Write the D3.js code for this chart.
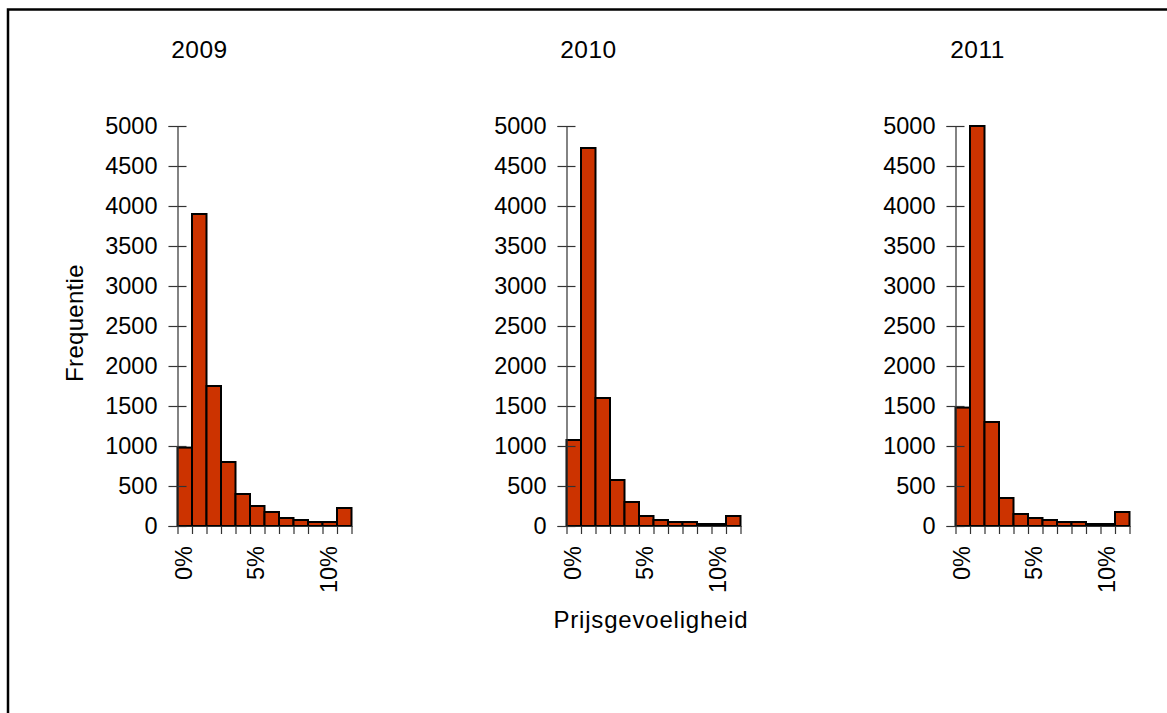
<!DOCTYPE html>
<html>
<head>
<meta charset="utf-8">
<script src="https://cdn.jsdelivr.net/npm/d3@7"></script>
<style>
  html, body { margin: 0; padding: 0; background: #fff; }
  svg { display: block; }
  text { font-family: "Liberation Sans", Arial, sans-serif; fill: #000; }
</style>
</head>
<body>
<svg id="chart" width="1167" height="713"></svg>
<script>
// ---- data ----
const bins = ["0%","1%","2%","3%","4%","5%","6%","7%","8%","9%","10%","11%"];
const binLabels = ["0%","5%","10%"];
const years = ["2009","2010","2011"];
const values2009 = [980, 3900, 1750, 800, 400, 250, 175, 100, 75, 50, 50, 225];
const values2010 = [1075, 4725, 1600, 575, 300, 125, 75, 50, 50, 25, 25, 125];
const values2011 = [1480, 5000, 1300, 350, 150, 100, 75, 50, 50, 25, 25, 175];
const yTicks = [0,500,1000,1500,2000,2500,3000,3500,4000,4500,5000];
const yLabel = "Frequentie";
const xLabel = "Prijsgevoeligheid";

const series = [values2009, values2010, values2011];

const svg = d3.select("#chart");

// frame
svg.append("path")
  .attr("d", "M8,713 L8,9.5 L1167,9.5")
  .attr("fill", "none").attr("stroke", "#000").attr("stroke-width", 2.5);

const panelLeft0 = 177.5, panelStep = 389, panelW = 174;
const yTop = 126, yBottom = 526;
const fontSize = 23.5;

const y = d3.scaleLinear().domain([0, 5000]).range([yBottom, yTop]);

years.forEach((yr, i) => {
  const left = panelLeft0 + i * panelStep;
  const xb = d3.scaleBand().domain(bins).range([left, left + panelW]).padding(0);
  const xl = d3.scaleLinear().domain([0, bins.length]).range([left, left + panelW]);
  const g = svg.append("g");

  // title
  g.append("text")
    .attr("x", left + 22).attr("y", 58)
    .attr("text-anchor", "middle")
    .style("font-size", "24.5px")
    .style("letter-spacing", "0.5px")
    .text(yr);

  // bars
  g.selectAll("rect.bar").data(series[i]).enter().append("rect")
    .attr("class", "bar")
    .attr("x", (d, k) => xb(bins[k]))
    .attr("width", xb.bandwidth())
    .attr("y", d => y(d))
    .attr("height", d => y(0) - y(d))
    .attr("fill", "#CC3300")
    .attr("stroke", "#000")
    .attr("stroke-width", 2);

  // y axis (outer ticks with labels)
  const ya = g.append("g").attr("transform", `translate(${left},0)`)
    .call(d3.axisLeft(y).tickValues(yTicks).tickSize(9).tickPadding(11).tickFormat(d3.format("d")));
  ya.selectAll("text").style("font-size", fontSize + "px").attr("fill", "#000").style("font-family", '"Liberation Sans", Arial, sans-serif');
  ya.select(".domain").attr("stroke", "#333").attr("stroke-width", 1.2);
  ya.selectAll(".tick line").attr("stroke", "#333").attr("stroke-width", 1.2);
  // inner ticks
  const yi = g.append("g").attr("transform", `translate(${left},0)`)
    .call(d3.axisRight(y).tickValues(yTicks).tickSize(9).tickFormat(""));
  yi.select(".domain").remove();
  yi.selectAll(".tick line").attr("stroke", "#333").attr("stroke-width", 1.2);

  // x axis edge ticks
  const xa = g.append("g").attr("transform", `translate(0,${yBottom})`)
    .call(d3.axisBottom(xl).tickValues(d3.range(bins.length + 1)).tickSize(8).tickSizeOuter(0).tickFormat(""));
  xa.select(".domain").attr("stroke", "#333").attr("stroke-width", 1.2);
  xa.selectAll(".tick line").attr("stroke", "#333").attr("stroke-width", 1.2);

  // x labels (rotated)
  const xt = g.append("g").attr("transform", `translate(0,${yBottom})`)
    .call(d3.axisBottom(xb).tickValues(binLabels).tickSize(0).tickPadding(0));
  xt.select(".domain").remove();
  xt.selectAll("text")
    .style("font-size", fontSize + "px")
    .style("font-family", '"Liberation Sans", Arial, sans-serif')
    .attr("fill", "#000")
    .attr("text-anchor", "end")
    .attr("transform", "translate(-1,20) rotate(-90)")
    .attr("x", 0).attr("y", 0).attr("dy", "0.35em");
});

// y label
svg.append("text")
  .attr("transform", "translate(75,323) rotate(-90)")
  .attr("text-anchor", "middle")
  .attr("dy", "0.35em")
  .style("font-size", "24px")
  .style("letter-spacing", "0.3px")
  .text(yLabel);

// x label
svg.append("text")
  .attr("x", 651).attr("y", 628)
  .attr("text-anchor", "middle")
  .style("font-size", "24px")
  .style("letter-spacing", "0.8px")
  .text(xLabel);
</script>
</body>
</html>
